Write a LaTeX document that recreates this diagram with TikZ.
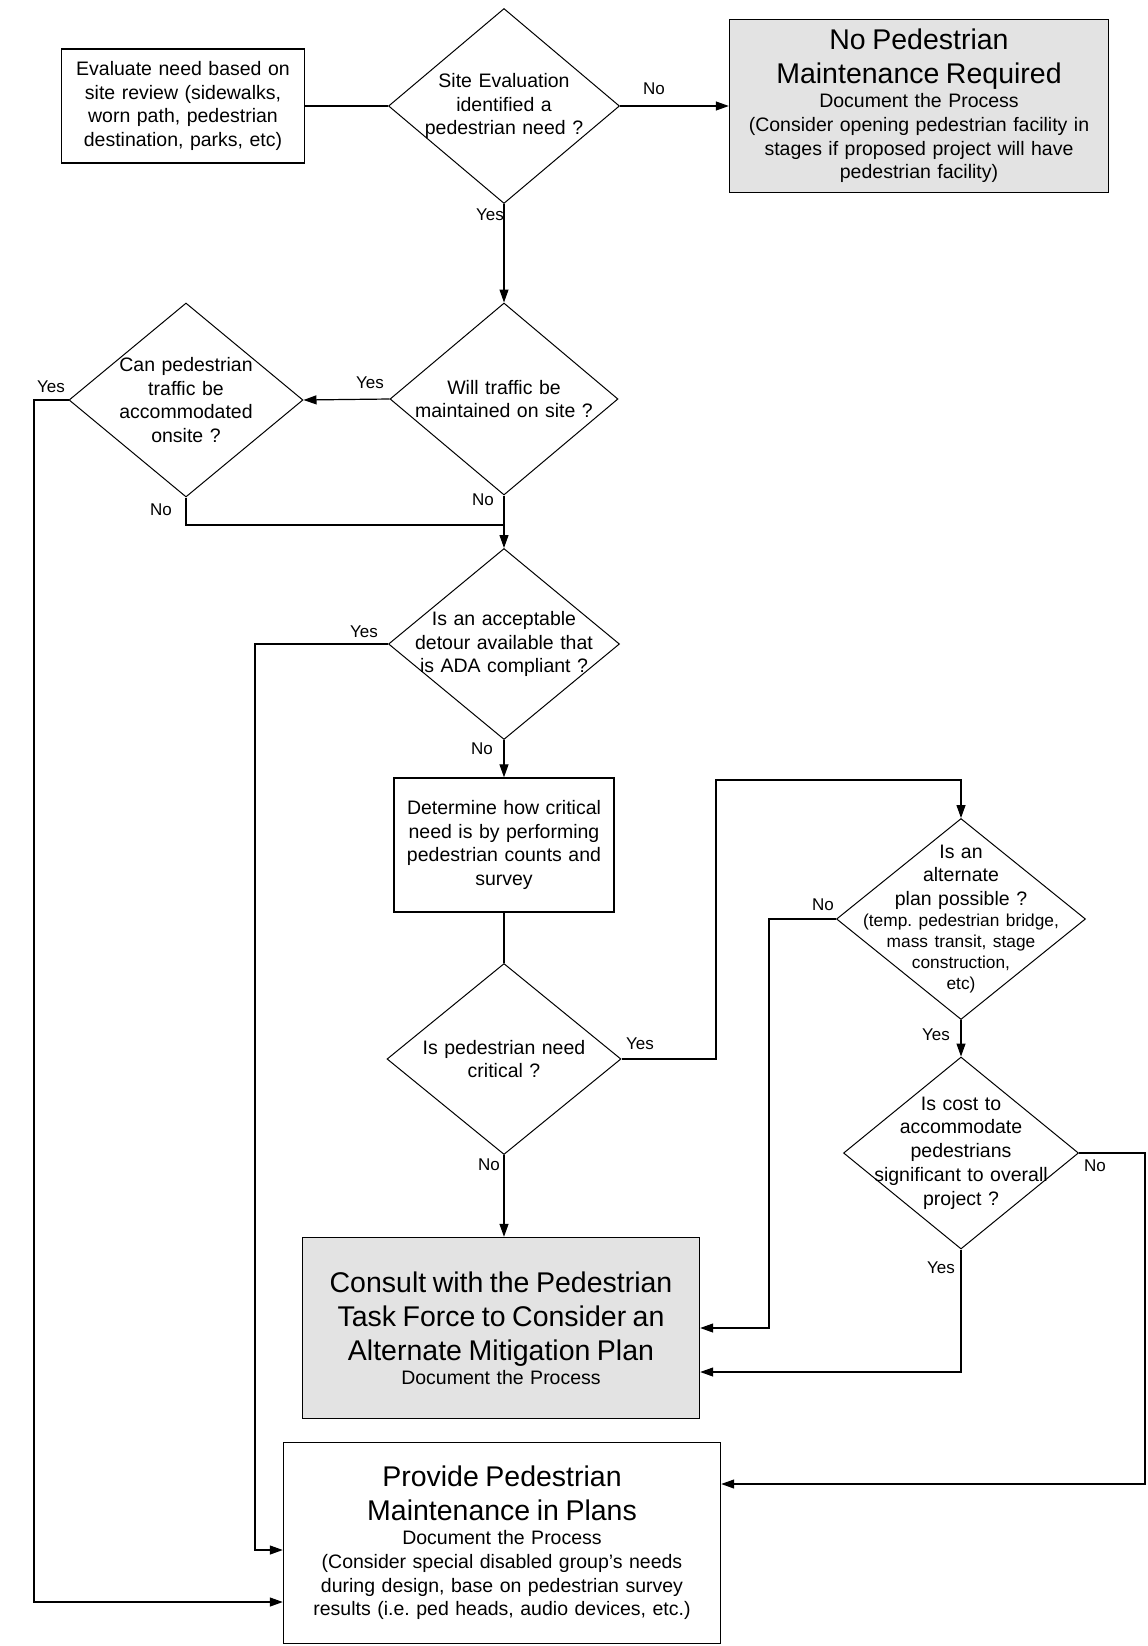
\documentclass[tikz,border=0pt]{standalone}
\usepackage{fontspec}
\setmainfont{Liberation Sans}
\usetikzlibrary{shapes.geometric,arrows.meta}
\frenchspacing

\newcommand{\flowbig}{\fontsize{28.5}{34}\selectfont}
\newcommand{\flownorm}{\fontsize{19.5}{23.8}\selectfont}
\newcommand{\flowsmall}{\fontsize{17.3}{21}\selectfont}
\newcommand{\flowlbl}{\fontsize{17}{20}\selectfont}

\begin{document}
\begin{tikzpicture}[
    x = 1pt, y = -1pt,
    line width = 1.2pt,
    >={Triangle[length=13pt,width=9pt]},
    box/.style = {draw, rectangle, line width = 1.4pt, align = center, inner sep = 0pt, font = \flownorm},
    shaded/.style = {box, fill = black!11},
    decision/.style = {draw, diamond, line width = 1pt, align = center, text width = 210pt, inner sep = -80pt, font = \flownorm},
    lbl/.style = {inner sep = 0pt, font = \flowlbl}
]

        % Page size.
        \useasboundingbox (0,0) rectangle (1148,1646);

        % Start box and the end box on top.
        \node[box, minimum width = 243pt, minimum height = 114pt, text width = 235pt] (evaluate) at (183,106)
            {Evaluate need based on\\ site review (sidewalks,\\ worn path, pedestrian\\ destination, parks, etc)};
        \node[shaded, minimum width = 379pt, minimum height = 173pt, text width = 370pt] (noped) at (919,106)
            {{\flowbig No Pedestrian\\ Maintenance Required\par}
             Document the Process\\ (Consider opening pedestrian facility in\\ stages if proposed project will have\\ pedestrian facility)};

        % Decisions down the main column.
        \node[decision, minimum width = 231pt, minimum height = 195pt] (site) at (504,106)
            {Site Evaluation\\ identified a\\ pedestrian need ?};
        \node[decision, minimum width = 228pt, minimum height = 192pt] (will) at (504,399)
            {Will traffic be\\ maintained on site ?};
        \node[decision, minimum width = 234pt, minimum height = 194pt] (can) at (186,400)
            {Can pedestrian\\ traffic be\\ accommodated\\ onsite ?};
        \node[decision, minimum width = 231pt, minimum height = 191pt] (detour) at (504,644)
            {Is an acceptable\\ detour available that\\ is ADA compliant ?};
        \node[box, minimum width = 220pt, minimum height = 134pt, text width = 212pt] (determine) at (504,845)
            {Determine how critical\\ need is by performing\\ pedestrian counts and\\ survey};
        \node[decision, minimum width = 234pt, minimum height = 191pt] (critical) at (504,1059)
            {Is pedestrian need\\ critical ?};

        % Decisions on the right.
        \node[decision, minimum width = 249pt, minimum height = 201pt] (alternate) at (961,919)
            {Is an\\ alternate\\ plan possible ?\par
             {\flowsmall (temp. pedestrian bridge,\\ mass transit, stage\\ construction,\\ etc)\par}};
        \node[decision, minimum width = 235pt, minimum height = 192pt] (cost) at (961,1153)
            {Is cost to\\ accommodate\\ pedestrians\\ significant to overall\\ project ?};

        % Boxes at the bottom.
        \node[shaded, minimum width = 397pt, minimum height = 181pt, text width = 390pt] (consult) at (501,1328)
            {{\flowbig Consult with the Pedestrian\\ Task Force to Consider an\\ Alternate Mitigation Plan\par}
             Document the Process};
        \node[box, minimum width = 437pt, minimum height = 201pt, text width = 430pt] (provide) at (502,1543)
            {{\flowbig Provide Pedestrian\\ Maintenance in Plans\par}
             Document the Process\\ (Consider special disabled group's needs\\ during design, base on pedestrian survey\\ results (i.e. ped heads, audio devices, etc.)};

        % Bend points of the long connectors.
        \coordinate (join) at (504,525);
        \coordinate (canleft) at (34,400);
        \coordinate (detourleft) at (255,644);
        \coordinate (critright) at (716,780);
        \coordinate (altleft) at (769,919);
        \coordinate (costright) at (1145,1153);

        % Connectors.
        \draw (evaluate.east) -- (site.west);
        \draw[->] (site.east) -- (noped.west);
        \draw[->] (site.south) -- (will.north);
        \draw[->] (will.west) -- (can.east);
        \draw[->] (will.south) -- (detour.north);
        \draw (can.south) |- (join);
        \draw[->] (can.west) -- (canleft) |- ([yshift=-59pt]provide.west);
        \draw[->] (detour.west) -- (detourleft) |- ([yshift=-7pt]provide.west);
        \draw[->] (detour.south) -- (determine.north);
        \draw (determine.south) -- (critical.north);
        \draw[->] (critical.east) -| (critright) -| (alternate.north);
        \draw[->] (critical.south) -- (critical.south |- consult.north);
        \draw[->] (alternate.west) -- (altleft) |- (consult.east);
        \draw[->] (alternate.south) -- (cost.north);
        \draw[->] (cost.south) |- ([yshift=-44pt]consult.east);
        \draw[->] (cost.east) -- (costright) |- ([yshift=59pt]provide.east);

        % Yes / No labels.
        \node[lbl] (siteno) at (654,89) {No};
        \node[lbl] (siteyes) at (490,215) {Yes};
        \node[lbl] (willyes) at (370,383) {Yes};
        \node[lbl] (willno) at (483,500) {No};
        \node[lbl] (canyes) at (51,387) {Yes};
        \node[lbl] (canno) at (161,510) {No};
        \node[lbl] (detouryes) at (364,632) {Yes};
        \node[lbl] (detourno) at (482,749) {No};
        \node[lbl] (crityes) at (640,1044) {Yes};
        \node[lbl] (critno) at (489,1165) {No};
        \node[lbl] (altno) at (823,905) {No};
        \node[lbl] (altyes) at (936,1035) {Yes};
        \node[lbl] (costno) at (1095,1166) {No};
        \node[lbl] (costyes) at (941,1268) {Yes};
    \end{tikzpicture}
\end{document}
